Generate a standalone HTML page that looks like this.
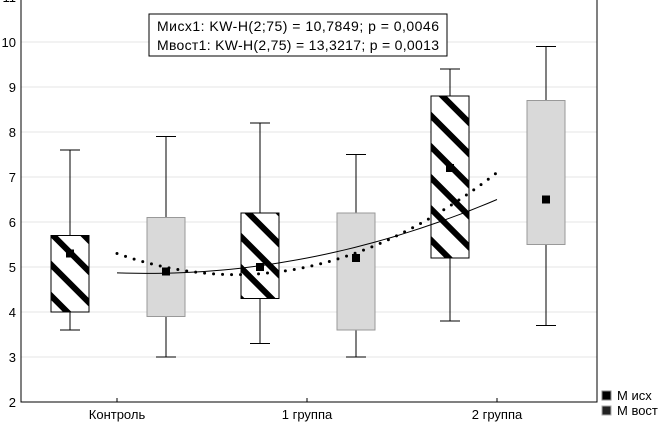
<!DOCTYPE html>
<html><head><meta charset="utf-8"><style>
body{margin:0;background:#fff}
svg text{font-family:"Liberation Sans",sans-serif;font-size:13px;fill:#000}
</style></head><body>
<svg id="c" width="664" height="426">
<defs>
<pattern id="hatch" width="22" height="22" patternUnits="userSpaceOnUse" patternTransform="rotate(-45)">
<rect width="22" height="22" fill="#fff"/><rect x="0" y="0" width="6" height="22" fill="#000"/>
</pattern>
</defs>
<g id="grid"></g><g id="marks"></g>
<rect x="149" y="14" width="298" height="42" fill="#fff" stroke="#000"/>
<text x="157" y="31" style="font-size:14px" textLength="282">Мисх1:  KW-H(2;75) = 10,7849; p = 0,0046</text>
<text x="157" y="50" style="font-size:14px" textLength="282">Мвост1:  KW-H(2,75) = 13,3217; p = 0,0013</text>
<g><rect x="602" y="391" width="9" height="9" fill="#000" stroke="#888"/><text x="617" y="400">М исх</text></g>
<g><rect x="602" y="406" width="9" height="9" fill="#222" stroke="#aaa"/><text x="617" y="415">М вост</text></g>
</svg>
<script>
const categories=["Контроль","1 группа","2 группа"];
const isxWhLo=[3.6,3.3,3.8], isxQ1=[4.0,4.3,5.2], isxQ3=[5.7,6.2,8.8], isxWhHi=[7.6,8.2,9.4], isxMean=[5.3,5.0,7.2];
const vostWhLo=[3.0,3.0,3.7], vostQ1=[3.9,3.6,5.5], vostQ3=[6.1,6.2,8.7], vostWhHi=[7.9,7.5,9.9], vostMean=[4.9,5.2,6.5];
const trendSolid=[4.87,5.2,6.5];
const trendDotted=[5.3,5.0,7.1];
const yTicks=[2,3,4,5,6,7,8,9,10,11];
const NS="http://www.w3.org/2000/svg";
const L=21,R=597,B=402;
const y=v=>B-(v-2)*45;
const xc=i=>117+i*190;
function mk(t,a,p){const e=document.createElementNS(NS,t);for(const k in a)e.setAttribute(k,a[k]);(p||document.getElementById('marks')).appendChild(e);return e;}
const g=document.getElementById('grid');
yTicks.forEach(v=>{
 if(v>2&&v<11){const l=mk('line',{x1:L,x2:R,y1:y(v),y2:y(v),stroke:'#e4e4e4'},g);
 
 }
 const t=mk('text',{x:16,y:y(v)+5,'text-anchor':'end'},g);t.textContent=v;
 
 
});
let a=mk('path',{d:`M${L} 0V${B}H${R}V0`,fill:'none',stroke:'#000'},g);


categories.forEach((c,i)=>{
 mk('line',{x1:xc(i),x2:xc(i),y1:B,y2:B-4,stroke:'#000'},g);
 const t=mk('text',{x:xc(i),y:419,'text-anchor':'middle'},g);t.textContent=c;
 
 
});
function box(cx,lo,q1,q3,hi,mean,fill,name){
 const gg=mk('g',{});
 
 
 mk('line',{x1:cx,x2:cx,y1:y(hi),y2:y(lo),stroke:'#000'},gg);
 mk('line',{x1:cx-10,x2:cx+10,y1:y(hi),y2:y(hi),stroke:'#000'},gg);
 mk('line',{x1:cx-10,x2:cx+10,y1:y(lo),y2:y(lo),stroke:'#000'},gg);
 mk('rect',{x:cx-19,y:y(q3),width:38,height:y(q1)-y(q3),fill:fill,stroke:fill=='#d9d9d9'?'#999':'#000'},gg);
 mk('rect',{x:cx-4,y:y(mean)-4,width:8,height:8,fill:'#000'},gg);
}
categories.forEach((c,i)=>{
 box(xc(i)-47,isxWhLo[i],isxQ1[i],isxQ3[i],isxWhHi[i],isxMean[i],'url(#hatch)','box-isx-'+i);
 box(xc(i)+49,vostWhLo[i],vostQ1[i],vostQ3[i],vostWhHi[i],vostMean[i],'#d9d9d9','box-vost-'+i);
});
function quad(vals){
 const [a0,a1,a2]=vals;const A=(a0-2*a1+a2)/2,Bq=a1-a0-A;
 let d='';for(let t=0;t<=2.0001;t+=0.05){const v=a0+Bq*t+A*t*t;d+=(t?'L':'M')+xc(t).toFixed(1)+' '+y(v).toFixed(1);}
 return d;
}
const s=mk('path',{d:quad(trendSolid),fill:'none',stroke:'#000','stroke-width':1});


const d=mk('path',{d:quad(trendDotted),fill:'none',stroke:'#000','stroke-width':3,'stroke-dasharray':'0 9','stroke-linecap':'round'});


</script>
</body></html>
